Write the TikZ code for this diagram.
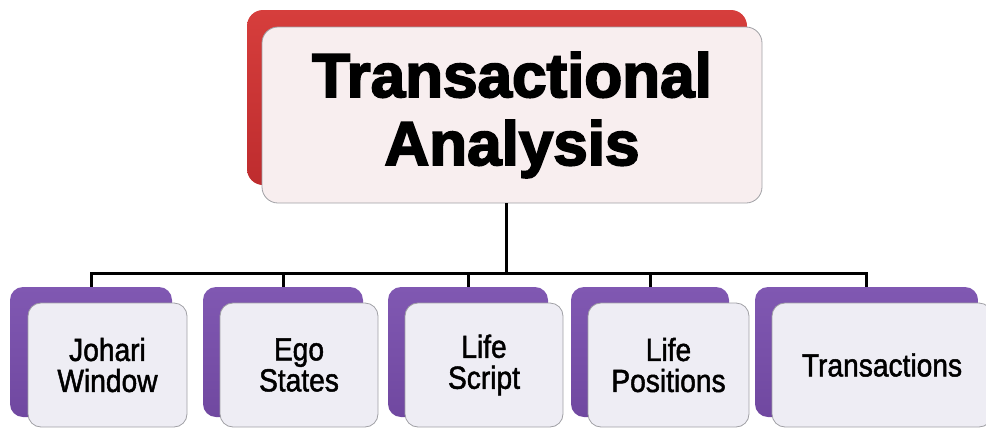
\documentclass[tikz,border=0pt]{standalone}
\usepackage{fontspec}
\setmainfont{Liberation Sans}
\newfontfamily\titlefont{Liberation Sans Bold}[FakeBold=3]
\newfontfamily\leaffont{Liberation Sans}[FakeStretch=0.88,FakeBold=1.5]
\definecolor{redA}{RGB}{214,62,60}
\definecolor{redB}{RGB}{190,44,46}
\definecolor{purA}{RGB}{128,88,178}
\definecolor{purB}{RGB}{112,72,160}
\definecolor{pinkfill}{RGB}{248,238,239}
\definecolor{lavfill}{RGB}{238,237,244}
\definecolor{edge}{RGB}{160,160,165}
\tikzset{
  x=1pt, y=-1pt,
  redback/.style={rectangle, rounded corners=16pt, inner sep=0pt, top color=redA, bottom color=redB, draw=none},
  topfrontbox/.style={rectangle, rounded corners=16pt, inner sep=0pt, fill=pinkfill, draw=edge, line width=0.8pt, align=center, font=\titlefont\fontsize{62}{68}\selectfont},
  purback/.style={rectangle, rounded corners=13pt, inner sep=0pt, top color=purA, bottom color=purB, draw=none},
  leafbox/.style={rectangle, rounded corners=13pt, inner sep=0pt, fill=lavfill, draw=edge, line width=0.8pt, align=center, font=\leaffont\fontsize{32}{31}\selectfont},
  conn/.style={draw=black, line width=3pt}
}
\begin{document}
\begin{tikzpicture}
\useasboundingbox (0,0) rectangle (986,429);
\begin{scope}
\clip (0,0) rectangle (986,429);
% top
\node[redback, minimum width=500pt, minimum height=175pt] (topback) at (497,97.5) {};
\node[topfrontbox, minimum width=500pt, minimum height=176pt] (top) at (512,115) {Transactional\\Analysis};
% connectors
\coordinate (j) at (506,273);
\node[purback, minimum width=162pt, minimum height=130pt] (p1) at (91,352) {};
\node[purback, minimum width=160pt, minimum height=130pt] (p2) at (283,352) {};
\node[purback, minimum width=160pt, minimum height=130pt] (p3) at (468,352) {};
\node[purback, minimum width=158pt, minimum height=130pt] (p4) at (650,352) {};
\node[purback, minimum width=223pt, minimum height=130pt] (p5) at (866.5,352) {};
\draw[conn] (j |- top.south) -- (j);
\draw[conn] (p1.north) -- (p1.north |- j) -- (p5.north |- j) -- (p5.north);
\foreach \i in {2,3,4}{\draw[conn] (p\i.north |- j) -- (p\i.north);}
\node[leafbox, minimum width=159pt, minimum height=124pt] (b1) at (107.5,365) {Johari\\Window};
\node[leafbox, minimum width=158pt, minimum height=124pt] (b2) at (299,365) {Ego\\States};
\node[leafbox, minimum width=158pt, minimum height=124pt] (b3) at (484,365) {Life\\Script};
\node[leafbox, minimum width=161pt, minimum height=124pt] (b4) at (668.5,365) {Life\\Positions};
\node[leafbox, minimum width=220pt, minimum height=124pt] (b5) at (882,365) {Transactions};
\end{scope}
\end{tikzpicture}
\end{document}
